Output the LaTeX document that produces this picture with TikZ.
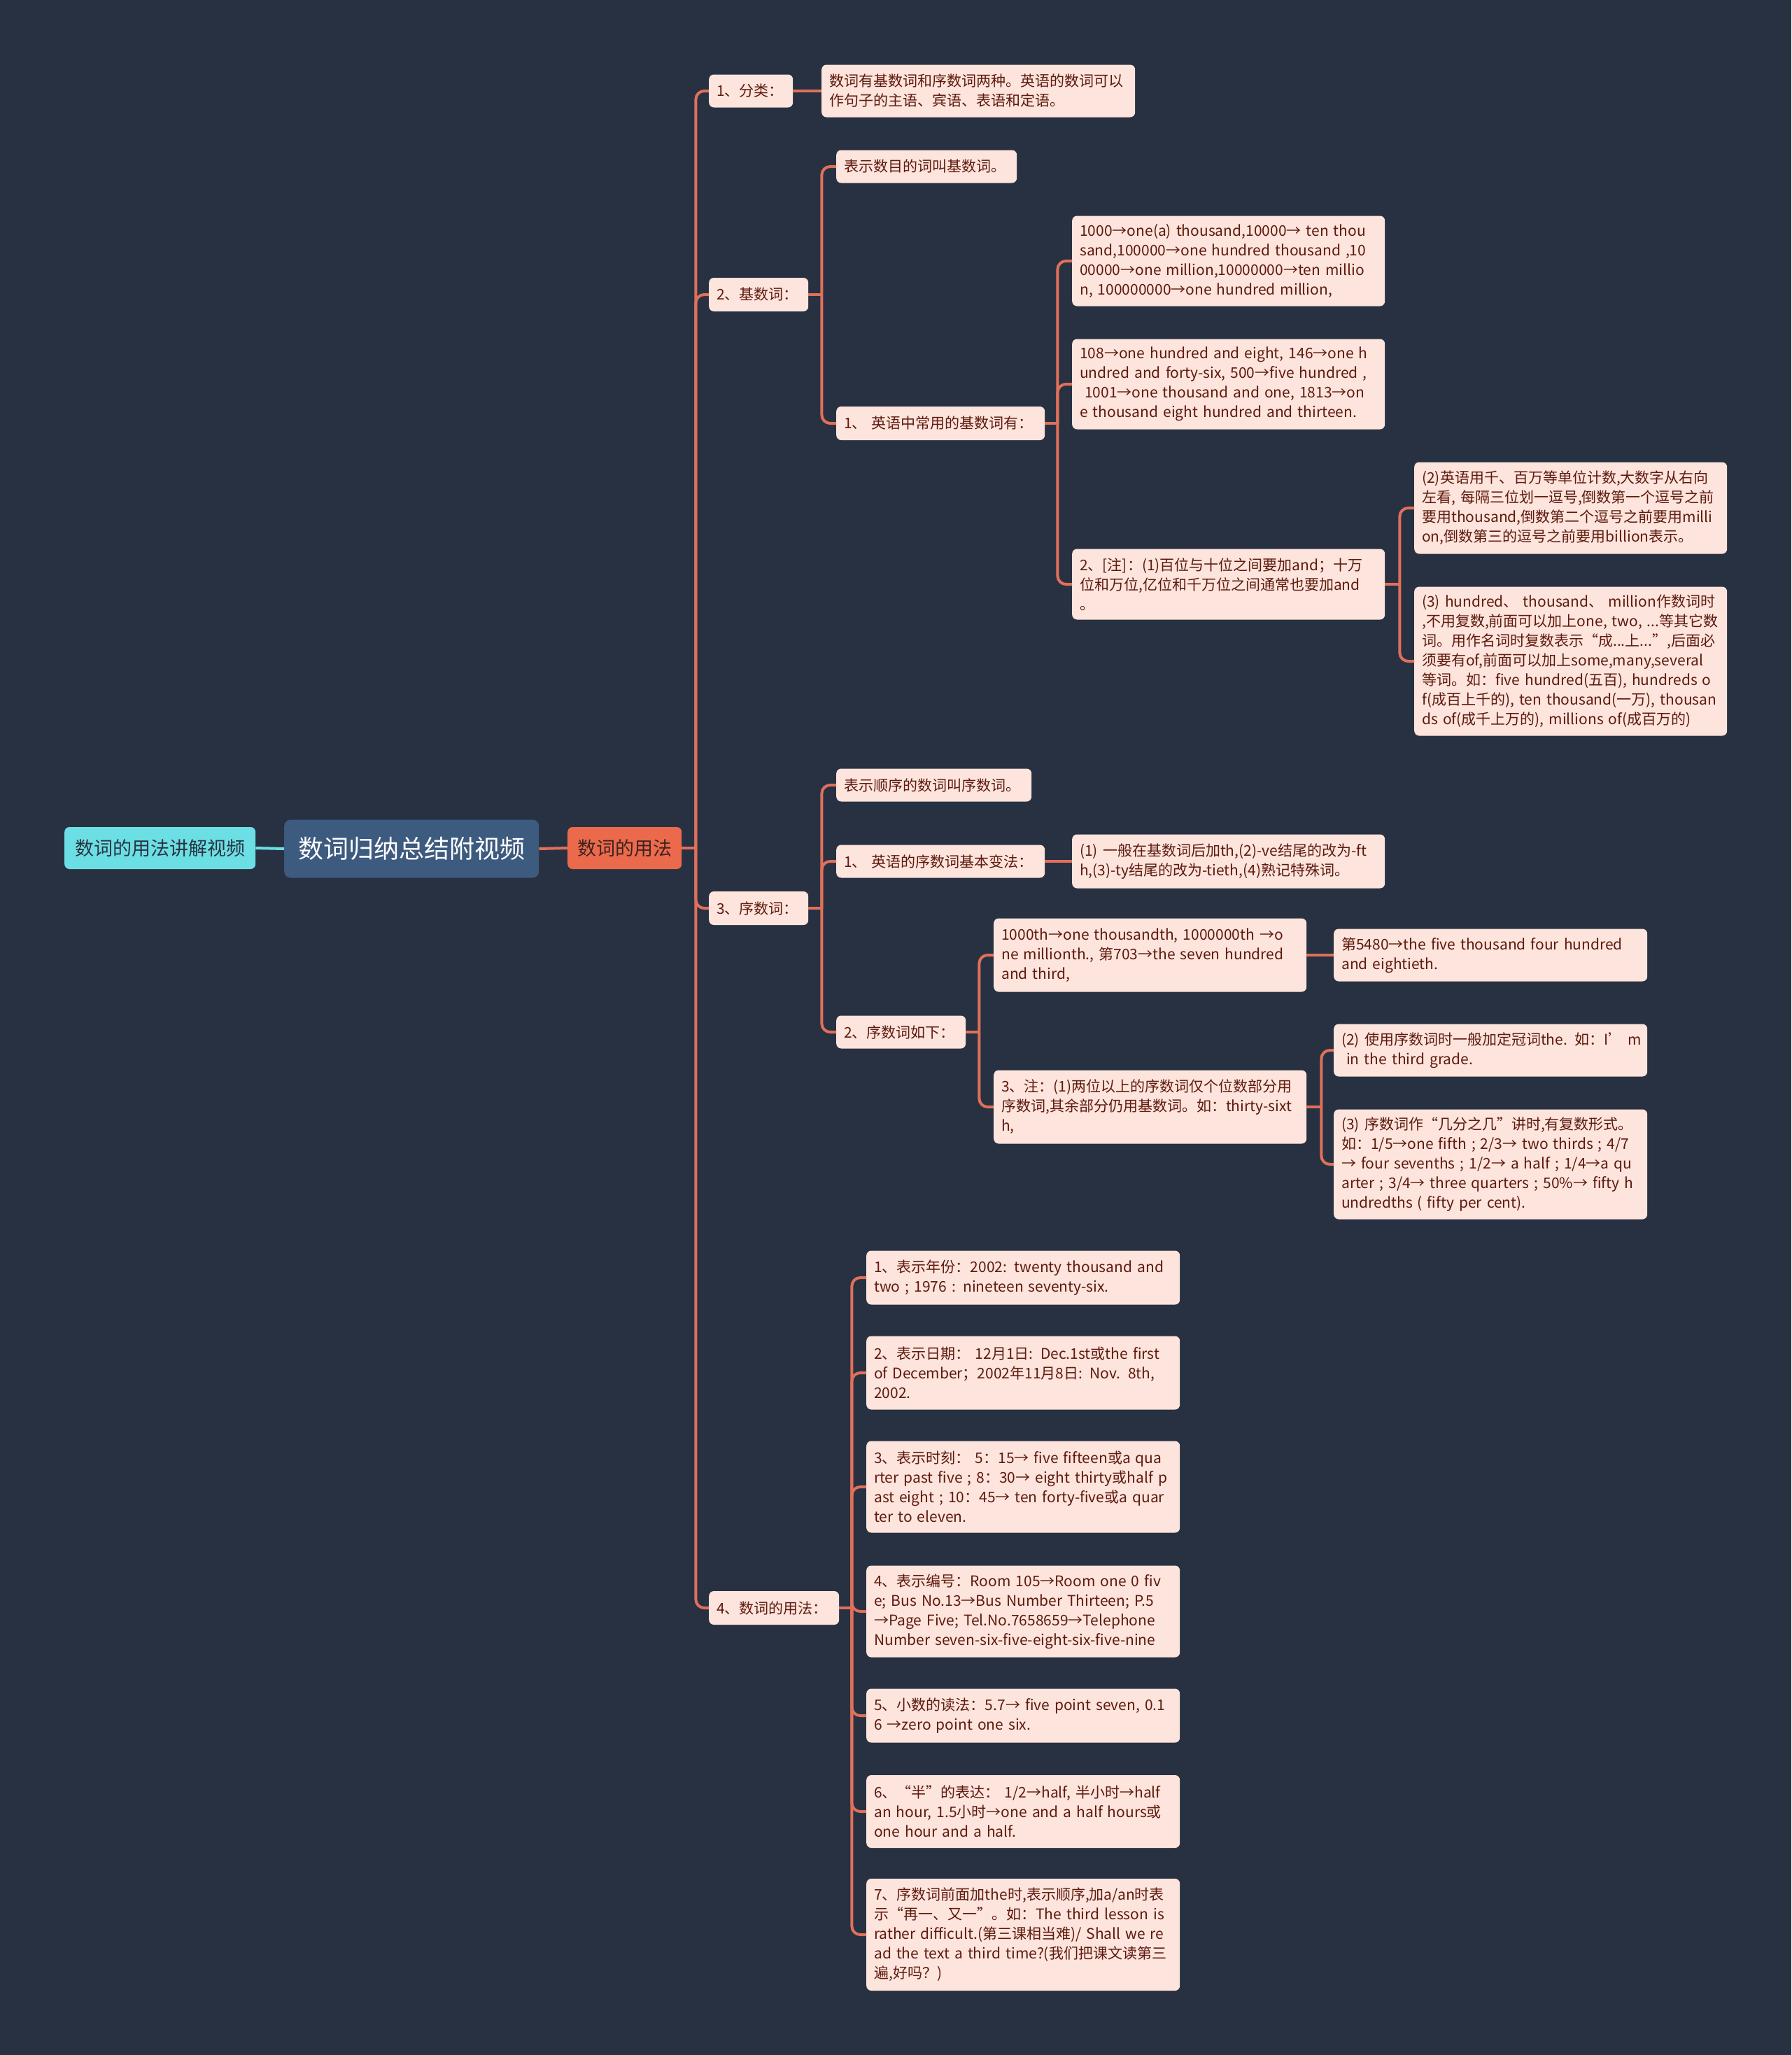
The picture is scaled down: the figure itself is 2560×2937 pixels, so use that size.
\documentclass[tikz,border=0pt]{standalone}
\usepackage{fontspec}
\setmainfont{Noto Sans CJK SC}
\usetikzlibrary{calc}
\definecolor{bgc}{HTML}{283142}
\definecolor{linec}{HTML}{E0705A}
\definecolor{leaffill}{HTML}{FDE4DC}
\definecolor{leaftext}{HTML}{5E1A0E}
\definecolor{rootfill}{HTML}{3D5A7F}
\definecolor{cyanfill}{HTML}{6BDFE4}
\definecolor{cyantext}{HTML}{2A3342}
\definecolor{orangefill}{HTML}{EC6A4C}
\definecolor{orangetext}{HTML}{3A2420}
\tikzset{
  leaf/.style={fill=leaffill, text=leaftext, rounded corners=7pt, anchor=west,
    align=left, inner xsep=11pt, inner ysep=0pt,
    font=\fontsize{21}{28}\selectfont},
  conn/.style={draw=linec, line width=4pt, rounded corners=12pt},
  cconn/.style={draw=cyanfill, line width=4pt}
}
\begin{document}
\begin{tikzpicture}[x=1pt,y=-1pt]
\useasboundingbox (0,0) rectangle (2560,2937);
\fill[bgc] (0,0) rectangle (2560,2937);

% main nodes
\node[fill=rootfill, text=white, rounded corners=9pt, anchor=west,
  minimum width=364pt, minimum height=83pt, inner sep=0pt,
  font=\fontsize{36}{44}\selectfont] (R) at (406,1213) {数词归纳总结附视频};
\node[fill=cyanfill, text=cyantext, rounded corners=7pt, anchor=west,
  minimum width=273pt, minimum height=60pt, inner sep=0pt,
  font=\fontsize{27}{34}\selectfont] (L) at (92,1212) {数词的用法讲解视频};
\node[fill=orangefill, text=orangetext, rounded corners=7pt, anchor=west,
  minimum width=163pt, minimum height=60pt, inner sep=0pt,
  font=\fontsize{27}{34}\selectfont] (M) at (811,1212) {数词的用法};

% level 2
\node[leaf, text width=98pt, minimum height=47pt] (B1) at (1013,130) {\mbox{1、分类：}};
\node[leaf, text width=120pt, minimum height=48pt] (B2) at (1013,421) {\mbox{2、基数词：}};
\node[leaf, text width=120pt, minimum height=48pt] (B3) at (1013,1298) {\mbox{3、序数词：}};
\node[leaf, text width=164pt, minimum height=48pt] (B4) at (1013,2298) {\mbox{4、数词的用法：}};

% group 1
\node[leaf, text width=426pt, minimum height=75pt] (B1c) at (1174,130)
 {\mbox{数词有基数词和序数词两种。英语的数词可以}\\\mbox{作句子的主语、宾语、表语和定语。}};

% group 2
\node[leaf, text width=236pt, minimum height=47pt] (B2a) at (1195,238) {\mbox{表示数目的词叫基数词。}};
\node[leaf, text width=276pt, minimum height=48pt] (B2b) at (1195,605) {\mbox{1、 英语中常用的基数词有：}};
\node[leaf, text width=425pt, minimum height=129pt] (B2b1) at (1532,373)
 {\mbox{1000→one(a) thousand,10000→ ten thou}\\\mbox{sand,100000→one hundred thousand ,10}\\\mbox{00000→one million,10000000→ten millio}\\\mbox{n, 100000000→one hundred million,}};
\node[leaf, text width=425pt, minimum height=129pt] (B2b2) at (1532,549)
 {\mbox{108→one hundred and eight, 146→one h}\\\mbox{undred and forty-six, 500→five hundred ,}\\\mbox{\ 1001→one thousand and one, 1813→on}\\\mbox{e thousand eight hundred and thirteen.}};
\node[leaf, text width=425pt, minimum height=101pt] (B2b3) at (1532,835)
 {\mbox{2、[注]：(1)百位与十位之间要加and；十万}\\\mbox{位和万位,亿位和千万位之间通常也要加and}\\\mbox{。}};
\node[leaf, text width=425pt, minimum height=131pt] (B2b3a) at (2021,726)
 {\mbox{(2)英语用千、百万等单位计数,大数字从右向}\\\mbox{左看, 每隔三位划一逗号,倒数第一个逗号之前}\\\mbox{要用thousand,倒数第二个逗号之前要用milli}\\\mbox{on,倒数第三的逗号之前要用billion表示。}};
\node[leaf, text width=425pt, minimum height=213pt] (B2b3b) at (2021,945)
 {\mbox{(3) hundred、 thousand、 million作数词时}\\\mbox{,不用复数,前面可以加上one, two, ...等其它数}\\\mbox{词。用作名词时复数表示“成...上...”,后面必}\\\mbox{须要有of,前面可以加上some,many,several}\\\mbox{等词。如：five hundred(五百), hundreds o}\\\mbox{f(成百上千的), ten thousand(一万), thousan}\\\mbox{ds of(成千上万的), millions of(成百万的)}};

% group 3
\node[leaf, text width=257pt, minimum height=47pt] (B3a) at (1195,1122) {\mbox{表示顺序的数词叫序数词。}};
\node[leaf, text width=276pt, minimum height=47pt] (B3b) at (1195,1231) {\mbox{1、 英语的序数词基本变法：}};
\node[leaf, text width=425pt, minimum height=77pt] (B3b1) at (1532,1231)
 {\mbox{(1) 一般在基数词后加th,(2)-ve结尾的改为-ft}\\\mbox{h,(3)-ty结尾的改为-tieth,(4)熟记特殊词。}};
\node[leaf, text width=163pt, minimum height=47pt] (B3c) at (1195,1475) {\mbox{2、序数词如下：}};
\node[leaf, text width=425pt, minimum height=105pt] (B3c1) at (1420,1365)
 {\mbox{1000th→one thousandth, 1000000th →o}\\\mbox{ne millionth., 第703→the seven hundred}\\\mbox{and third,}};
\node[leaf, text width=426pt, minimum height=75pt] (B3c1a) at (1906,1365)
 {\mbox{第5480→the five thousand four hundred}\\\mbox{and eightieth.}};
\node[leaf, text width=425pt, minimum height=105pt] (B3c2) at (1420,1582)
 {\mbox{3、注：(1)两位以上的序数词仅个位数部分用}\\\mbox{序数词,其余部分仍用基数词。如：thirty-sixt}\\\mbox{h,}};
\node[leaf, text width=426pt, minimum height=75pt] (B3c2a) at (1906,1501)
 {\mbox{(2) 使用序数词时一般加定冠词the. 如：I’ m}\\\mbox{\ in the third grade.}};
\node[leaf, text width=426pt, minimum height=157pt] (B3c2b) at (1906,1664)
 {\mbox{(3) 序数词作“几分之几”讲时,有复数形式。}\\\mbox{如：1/5→one fifth ; 2/3→ two thirds ; 4/7}\\\mbox{→ four sevenths ; 1/2→ a half ; 1/4→a qu}\\\mbox{arter ; 3/4→ three quarters ; 50\%→ fifty h}\\\mbox{undredths ( fifty per cent).}};

% group 4
\node[leaf, text width=426pt, minimum height=77pt] (C1) at (1238,1826)
 {\mbox{1、表示年份：2002: twenty thousand and}\\\mbox{two ; 1976 : nineteen seventy-six.}};
\node[leaf, text width=426pt, minimum height=105pt] (C2) at (1238,1962)
 {\mbox{2、表示日期：\ 12月1日: Dec.1st或the first}\\\mbox{of December；2002年11月8日: Nov. 8th,}\\\mbox{2002.}};
\node[leaf, text width=426pt, minimum height=131pt] (C3) at (1238,2125)
 {\mbox{3、表示时刻：\ 5：15→ five fifteen或a qua}\\\mbox{rter past five ; 8：30→ eight thirty或half p}\\\mbox{ast eight ; 10：45→ ten forty-five或a quar}\\\mbox{ter to eleven.}};
\node[leaf, text width=426pt, minimum height=131pt] (C4) at (1238,2303)
 {\mbox{4、表示编号：Room 105→Room one 0 fiv}\\\mbox{e; Bus No.13→Bus Number Thirteen; P.5}\\\mbox{→Page Five; Tel.No.7658659→Telephone}\\\mbox{Number seven-six-five-eight-six-five-nine}};
\node[leaf, text width=426pt, minimum height=77pt] (C5) at (1238,2452)
 {\mbox{5、小数的读法：5.7→ five point seven, 0.1}\\\mbox{6 →zero point one six.}};
\node[leaf, text width=426pt, minimum height=104pt] (C6) at (1238,2589)
 {\mbox{6、“半”的表达：\ 1/2→half, 半小时→half}\\\mbox{an hour, 1.5小时→one and a half hours或}\\\mbox{one hour and a half.}};
\node[leaf, text width=426pt, minimum height=160pt] (C7) at (1238,2765)
 {\mbox{7、序数词前面加the时,表示顺序,加a/an时表}\\\mbox{示“再一、又一”。如：The third lesson is}\\\mbox{rather difficult.(第三课相当难)/ Shall we re}\\\mbox{ad the text a third time?(我们把课文读第三}\\\mbox{遍,好吗？)}};

% connectors
\draw[cconn] (L.east) -- (R.west);
\draw[conn] (R.east) -- (M.west);

\coordinate (tM) at ([xshift=20pt]M.east);
\draw[conn] (M.east) -- (tM);
\foreach \c in {B1,B2,B3,B4} \draw[conn] (tM) |- (\c.west);

\draw[conn] (B1.east) -- (B1c.west);

\coordinate (tB2) at ([xshift=19pt]B2.east);
\draw[conn] (B2.east) -- (tB2);
\foreach \c in {B2a,B2b} \draw[conn] (tB2) |- (\c.west);

\coordinate (tB2b) at ([xshift=18pt]B2b.east);
\draw[conn] (B2b.east) -- (tB2b);
\foreach \c in {B2b1,B2b2,B2b3} \draw[conn] (tB2b) |- (\c.west);

\coordinate (tB2b3) at ([xshift=21pt]B2b3.east);
\draw[conn] (B2b3.east) -- (tB2b3);
\foreach \c in {B2b3a,B2b3b} \draw[conn] (tB2b3) |- (\c.west);

\coordinate (tB3) at ([xshift=19pt]B3.east);
\draw[conn] (B3.east) -- (tB3);
\foreach \c in {B3a,B3b,B3c} \draw[conn] (tB3) |- (\c.west);

\draw[conn] (B3b.east) -- (B3b1.west);

\coordinate (tB3c) at ([xshift=19pt]B3c.east);
\draw[conn] (B3c.east) -- (tB3c);
\foreach \c in {B3c1,B3c2} \draw[conn] (tB3c) |- (\c.west);

\draw[conn] (B3c1.east) -- (B3c1a.west);

\coordinate (tB3c2) at ([xshift=21pt]B3c2.east);
\draw[conn] (B3c2.east) -- (tB3c2);
\foreach \c in {B3c2a,B3c2b} \draw[conn] (tB3c2) |- (\c.west);

\coordinate (tB4) at ([xshift=18pt]B4.east);
\draw[conn] (B4.east) -- (tB4);
\foreach \c in {C1,C2,C3,C4,C5,C6,C7} \draw[conn] (tB4) |- (\c.west);
\end{tikzpicture}
\end{document}
